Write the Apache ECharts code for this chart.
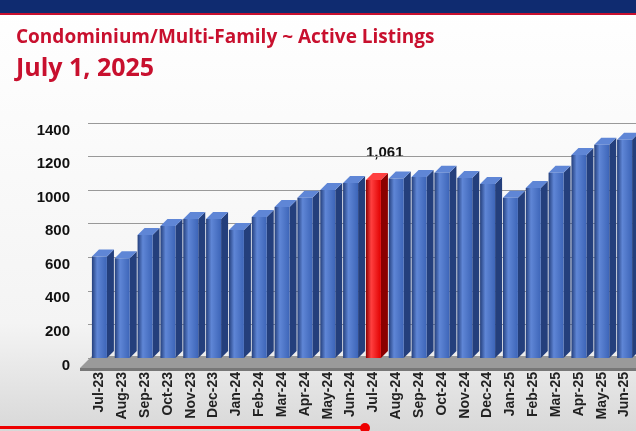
<!DOCTYPE html>
<html><head><meta charset="utf-8">
<script src="https://cdn.jsdelivr.net/npm/echarts@6/dist/echarts.min.js"></script>
<style>html,body{margin:0;padding:0;background:#fff}#c{width:636px;height:431px}</style>
</head><body><div id="c"></div>
<script>
// active listings per month
var months = ['Jul-23','Aug-23','Sep-23','Oct-23','Nov-23','Dec-23','Jan-24','Feb-24','Mar-24','Apr-24','May-24','Jun-24',
  'Jul-24','Aug-24','Sep-24','Oct-24','Nov-24','Dec-24','Jan-25','Feb-25','Mar-25','Apr-25','May-25','Jun-25'];
var listings = [605,595,733,786,828,828,762,840,900,954,1001,1043,
  1061,1070,1079,1103,1073,1037,954,1013,1103,1210,1270,1300];
var highlight = 'Jul-24';
var yTicks = [0,200,400,600,800,1000,1200,1400];

var chart = echarts.init(document.getElementById('c'));
var depth = 7;

function renderBar(params, api) {
  var x = api.value(0), v = api.value(1);
  var top = api.coord([x, v]), base = api.coord([x, 0]);
  var w = 15, l = top[0] - w / 2, r = top[0] + w / 2;
  var red = months[x] === highlight;
  var front = red ? '#e00000' : '#3d65b8';
  var side = red ? '#8a0000' : '#243f7c';
  var cap = red ? '#ff4040' : '#5f86d6';
  return {type: 'group', children: [
    {type: 'polygon', shape: {points: [[r, top[1]], [r + depth, top[1] - depth], [r + depth, base[1] - depth], [r, base[1]]]}, style: {fill: side}},
    {type: 'polygon', shape: {points: [[l, top[1]], [l + depth, top[1] - depth], [r + depth, top[1] - depth], [r, top[1]]]}, style: {fill: cap}},
    {type: 'rect', shape: {x: l, y: top[1], width: w, height: base[1] - top[1]},
      style: {fill: new echarts.graphic.LinearGradient(0, 0, 1, 0, [{offset: 0, color: side}, {offset: 0.35, color: cap}, {offset: 1, color: front}])}}
  ]};
}

chart.setOption({
  backgroundColor: new echarts.graphic.LinearGradient(0, 0, 0, 1, [{offset: 0, color: '#ffffff'}, {offset: 0.75, color: '#f4f4f4'}, {offset: 1, color: '#d8d8d8'}]),
  animation: false,
  graphic: [
    {type: 'rect', shape: {x: 0, y: 0, width: 636, height: 13}, style: {fill: '#0f2b70'}},
    {type: 'rect', shape: {x: 0, y: 13, width: 636, height: 2}, style: {fill: '#c8102e'}},
    {type: 'text', left: 16, top: 28, style: {text: 'Condominium/Multi-Family ~ Active Listings', fill: '#c8102e', font: 'bold 19px "Open Sans", sans-serif'}},
    {type: 'text', left: 16, top: 56, style: {text: 'July 1, 2025', fill: '#c8102e', font: 'bold 25px "Open Sans", sans-serif'}},
    {type: 'polygon', z: 0, shape: {points: [[80, 368], [92, 356], [660, 356], [660, 368]]}, style: {fill: '#9a9a9a'}},
    {type: 'rect', z: 0, shape: {x: 80, y: 368, width: 580, height: 3}, style: {fill: '#777'}},
    {type: 'text', left: 366, top: 145, style: {text: '1,061', fill: '#111', font: 'bold 15px Arial, sans-serif'}},
    {type: 'rect', shape: {x: 0, y: 426, width: 365, height: 3}, style: {fill: '#e00'}},
    {type: 'circle', shape: {cx: 365, cy: 428, r: 5}, style: {fill: '#e00'}}
  ],
  grid: {left: 88, right: -19, top: 123, bottom: 73},
  xAxis: {
    type: 'category', data: months,
    axisLine: {show: false}, axisTick: {show: false},
    axisLabel: {rotate: 90, margin: 14, color: '#222', fontWeight: 'bold', fontSize: 14, fontFamily: 'Arial'}
  },
  yAxis: {
    type: 'value', min: yTicks[0], max: yTicks[yTicks.length - 1], interval: 200,
    axisLine: {show: false}, axisTick: {show: false},
    axisLabel: {color: '#111', fontWeight: 'bold', fontSize: 15, fontFamily: 'Arial', margin: 18,
      verticalAlign: 'top', formatter: function (v) { return String(v); }},
    splitLine: {lineStyle: {color: '#999', width: 1}}
  },
  series: [{
    type: 'custom', renderItem: renderBar,
    encode: {x: 0, y: 1},
    data: listings.map(function (v, i) { return [i, v]; })
  }]
});
</script></body></html>
